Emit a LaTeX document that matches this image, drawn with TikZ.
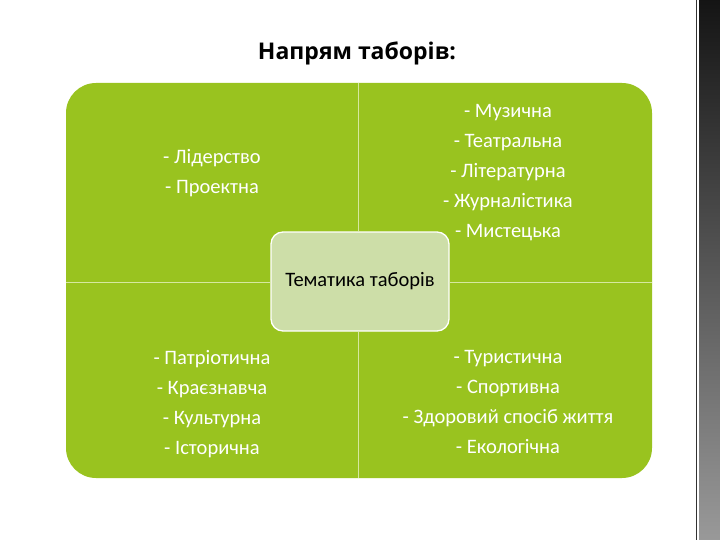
\documentclass[tikz,border=0pt]{standalone}
\usepackage{fontspec}
\setmainfont{Carlito}
\newfontfamily\titlefont{Open Sans}
\definecolor{quadgreen}{RGB}{153,195,31}
\definecolor{centergreen}{RGB}{205,222,168}
\definecolor{divline}{RGB}{214,232,160}
\tikzset{
  quadtext/.style={text=white, align=center, font=\fontsize{20.5}{30}\selectfont, anchor=north},
  centerbox/.style={draw=white, line width=1.3pt, fill=centergreen, rounded corners=12pt,
     minimum width=178pt, minimum height=99pt, font=\fontsize{20.5}{24}\selectfont, text=black},
  divider/.style={draw=divline, line width=0.9pt}
}
\begin{document}
\begin{tikzpicture}[x=1pt,y=-1pt]
\useasboundingbox (0,0) rectangle (720,540);
\fill[white] (0,0) rectangle (720,540);
% decorative strip at right
\shade[top color=black!92, bottom color=black!40] (699,0) rectangle (720,540);
\draw[black!80, line width=1.2pt] (696.5,0) -- (696.5,540);
% title
\node (title) at (357,53) {\titlefont\bfseries\fontsize{23}{27}\selectfont Напрям таборів:};
% green quadrants
\fill[quadgreen, rounded corners=30pt] (66,83) rectangle (652,478);
\coordinate (ttop) at (358,83);
\coordinate (tbot) at (358,478);
\coordinate (lleft) at (66,282);
\coordinate (rright) at (652,282);
% center box
\node[centerbox] (center) at (360,281.5) {Тематика таборів};
\draw[divider] (ttop) -- (center.north -| ttop);
\draw[divider] (center.south -| tbot) -- (tbot);
\draw[divider] (lleft) -- (center.west |- lleft);
\draw[divider] (center.east |- rright) -- (rright);
% quadrant texts
\node[quadtext] (tl) at (212,146) {- Лідерство\\- Проектна};
\node[quadtext] (tr) at (508,101) {- Музична\\- Театральна\\- Літературна\\- Журналістика\\- Мистецька};
\node[quadtext] (bl) at (212,347) {- Патріотична\\- Краєзнавча\\- Культурна\\- Історична};
\node[quadtext] (br) at (508,347) {- Туристична\\- Спортивна\\- Здоровий спосіб життя\\- Екологічна};
\end{tikzpicture}
\end{document}
